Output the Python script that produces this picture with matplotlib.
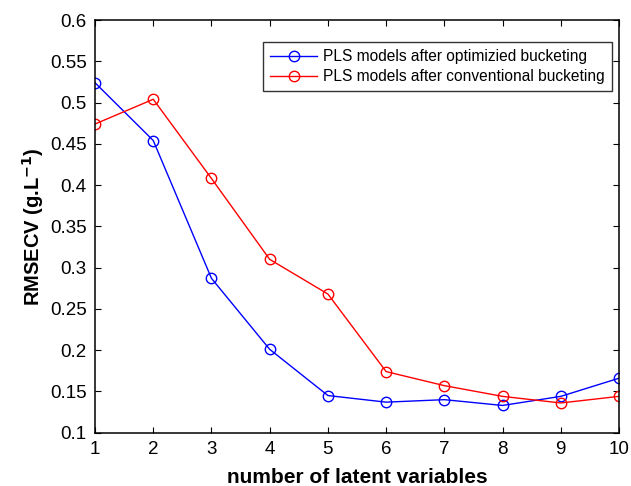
import matplotlib
matplotlib.use("Agg")
import matplotlib.pyplot as plt

plt.rcParams['font.family'] = ['Liberation Sans', 'DejaVu Sans']

latent_vars = [1, 2, 3, 4, 5, 6, 7, 8, 9, 10]
optimized = [0.524, 0.454, 0.287, 0.201, 0.145, 0.137, 0.140, 0.133, 0.144, 0.166]
conventional = [0.474, 0.504, 0.408, 0.310, 0.268, 0.174, 0.157, 0.144, 0.136, 0.144]
yticks = [0.1, 0.15, 0.2, 0.25, 0.3, 0.35, 0.4, 0.45, 0.5, 0.55, 0.6]
ytick_labels = ["0.1", "0.15", "0.2", "0.25", "0.3", "0.35", "0.4", "0.45", "0.5", "0.55", "0.6"]

fig = plt.figure(figsize=(6.31, 4.86), dpi=100)
ax = fig.add_axes([0.1506, 0.1097, 0.8304, 0.8491])

ax.plot(latent_vars, optimized, color='#0000ff', marker='o', markersize=7.5,
        markerfacecolor='none', markeredgewidth=1.0, linewidth=1.0,
        label='PLS models after optimizied bucketing')
ax.plot(latent_vars, conventional, color='#ff0000', marker='o', markersize=7.5,
        markerfacecolor='none', markeredgewidth=1.0, linewidth=1.0,
        label='PLS models after conventional bucketing')

ax.set_xlim(1, 10)
ax.set_ylim(0.1, 0.6)
ax.set_xticks(latent_vars)
ax.set_yticks(yticks)
ax.set_yticklabels(ytick_labels)
ax.tick_params(direction='in', top=True, right=True, labelsize=13.5, length=4, width=0.8, pad=6)
for s in ax.spines.values():
    s.set_linewidth(1.1)

ax.set_xlabel('number of latent variables', fontsize=15, fontweight='bold', labelpad=7)
ax.set_ylabel(r'RMSECV (g.L$^{\mathbf{-1}}$)', fontsize=14.5, fontweight='bold', labelpad=3)

leg = ax.legend(loc='upper right', bbox_to_anchor=(0.9866, 0.9467), borderaxespad=0,
                fontsize=11.2, frameon=True, fancybox=False, edgecolor='black',
                handlelength=3.0, handletextpad=0.4, borderpad=0.45, labelspacing=0.35)
leg.get_frame().set_linewidth(1.0)

fig.savefig('out.png', dpi=100)
